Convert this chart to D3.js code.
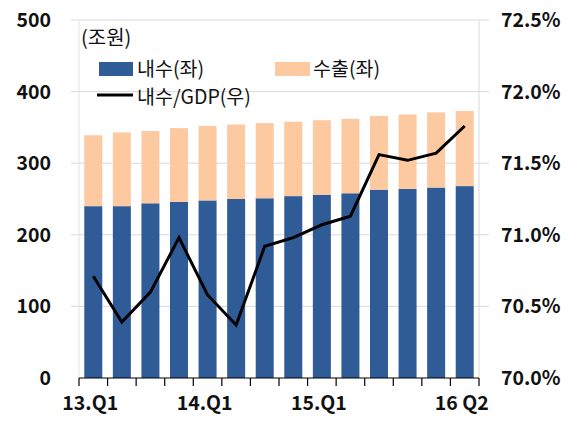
<!DOCTYPE html>
<html>
<head>
<meta charset="utf-8">
<script src="https://cdn.jsdelivr.net/npm/d3@7"></script>
<style>
  body { margin: 0; background: #fff; }
  text { font-family: "Noto Sans CJK KR", "Noto Sans", sans-serif; }
</style>
</head>
<body>
<svg id="chart" width="566" height="421"></svg>
<script>
// Quarterly domestic demand vs. exports (trillion won) and domestic demand share of GDP
const quarters = ["13.Q1","13.Q2","13.Q3","13.Q4","14.Q1","14.Q2","14.Q3","14.Q4",
                  "15.Q1","15.Q2","15.Q3","15.Q4","16.Q1","16.Q2"];
const tickLabels = ["13.Q1","","","","14.Q1","","","","15.Q1","","","","","16 Q2"];
const domestic = [240, 240, 244, 246, 248, 250, 251, 254, 256, 258, 263, 264, 266, 268];
const exportsV = [ 99, 103, 101, 103, 104, 104, 105, 104, 104, 104, 103, 104, 105, 105];
const ratio    = [70.71, 70.39, 70.60, 70.98, 70.58, 70.37, 70.92, 70.98, 71.07, 71.13,
                  71.56, 71.52, 71.57, 71.76];
const leftTicks  = [0, 100, 200, 300, 400, 500];
const rightTicks = [70.0, 70.5, 71.0, 71.5, 72.0, 72.5];

const colDomestic = "#2f5b96";
const colExports  = "#fcc9a0";

const svg = d3.select("#chart");
const pLeft = 79, pRight = 479, pTop = 20, pBottom = 378;

const x = d3.scaleBand().domain(quarters).range([pLeft, pRight])
  .paddingInner(0.37).paddingOuter(0.185);
const slot = (pRight - pLeft) / quarters.length;
const yL = d3.scaleLinear().domain([0, 500]).range([pBottom, pTop]);
const yR = d3.scaleLinear().domain([70, 72.5]).range([pBottom, pTop]);

// gridlines with short outer ticks on both sides
svg.append("g").selectAll("line").data(leftTicks.slice(1)).join("line")
  .attr("x1", pLeft - 8).attr("x2", pRight + 10)
  .attr("y1", d => yL(d)).attr("y2", d => yL(d))
  .attr("stroke", "#d9d9d9").attr("stroke-width", 1);

// plot frame sides
svg.append("line").attr("x1", pLeft).attr("x2", pLeft).attr("y1", pTop).attr("y2", pBottom)
  .attr("stroke", "#dde6ef");
svg.append("line").attr("x1", pRight).attr("x2", pRight).attr("y1", pTop).attr("y2", pBottom)
  .attr("stroke", "#d9d9d9");

// stacked bars
const bars = svg.append("g");
bars.selectAll("rect.d").data(quarters).join("rect").attr("class", "d")
  .attr("x", d => x(d)).attr("width", x.bandwidth())
  .attr("y", (d, i) => yL(domestic[i])).attr("height", (d, i) => yL(0) - yL(domestic[i]))
  .attr("fill", colDomestic);
bars.selectAll("rect.e").data(quarters).join("rect").attr("class", "e")
  .attr("x", d => x(d)).attr("width", x.bandwidth())
  .attr("y", (d, i) => yL(domestic[i] + exportsV[i]))
  .attr("height", (d, i) => yL(domestic[i]) - yL(domestic[i] + exportsV[i]))
  .attr("fill", colExports);

// share of GDP line (right axis)
const line = d3.line()
  .x((d, i) => x(quarters[i]) + x.bandwidth() / 2)
  .y(d => yR(d));
svg.append("path").datum(ratio).attr("d", line)
  .attr("fill", "none").attr("stroke", "#000").attr("stroke-width", 3)
  .attr("stroke-linejoin", "miter");

// x axis baseline and boundary ticks
svg.append("line").attr("x1", pLeft).attr("x2", pRight).attr("y1", pBottom).attr("y2", pBottom)
  .attr("stroke", "#000").attr("stroke-width", 1.2);
svg.append("g").selectAll("line").data(d3.range(quarters.length + 1)).join("line")
  .attr("x1", i => pLeft + i * slot).attr("x2", i => pLeft + i * slot)
  .attr("y1", pBottom).attr("y2", pBottom + 8)
  .attr("stroke", "#000").attr("stroke-width", 1.2);

// x tick labels
svg.append("g").selectAll("text").data(quarters).join("text")
  .attr("x", d => x(d) + x.bandwidth() / 2 - 3)
  .attr("y", 410)
  .attr("text-anchor", "middle")
  .attr("font-size", 19.5).attr("font-weight", "bold").attr("fill", "#111")
  .text((d, i) => tickLabels[i]);

// left axis labels
svg.append("g").selectAll("text").data(leftTicks).join("text")
  .attr("x", 51).attr("y", d => yL(d)).attr("dy", "0.36em")
  .attr("text-anchor", "end")
  .attr("font-size", 19.5).attr("font-weight", "bold").attr("fill", "#111")
  .text(d => d);

// right axis labels
svg.append("g").selectAll("text").data(rightTicks).join("text")
  .attr("x", 501).attr("y", d => yR(d)).attr("dy", "0.36em")
  .attr("text-anchor", "start")
  .attr("font-size", 19.5).attr("font-weight", "bold").attr("fill", "#111")
  .text(d => d.toFixed(1) + "%");

// unit label
svg.append("text").attr("x", 81).attr("y", 45)
  .attr("font-size", 20).attr("fill", "#111").text("(조원)");

// legend
const lg = svg.append("g");
lg.append("rect").attr("x", 99).attr("y", 62).attr("width", 34).attr("height", 14).attr("fill", colDomestic);
lg.append("text").attr("x", 137).attr("y", 76).attr("font-size", 19.5).attr("fill", "#111").text("내수(좌)");
lg.append("rect").attr("x", 275).attr("y", 62).attr("width", 35).attr("height", 14).attr("fill", colExports);
lg.append("text").attr("x", 313).attr("y", 76).attr("font-size", 19.5).attr("fill", "#111").text("수출(좌)");
lg.append("line").attr("x1", 97).attr("x2", 133).attr("y1", 95).attr("y2", 95)
  .attr("stroke", "#000").attr("stroke-width", 3);
lg.append("text").attr("x", 137).attr("y", 104).attr("font-size", 19.5).attr("fill", "#111").text("내수/GDP(우)");
</script>
</body>
</html>
